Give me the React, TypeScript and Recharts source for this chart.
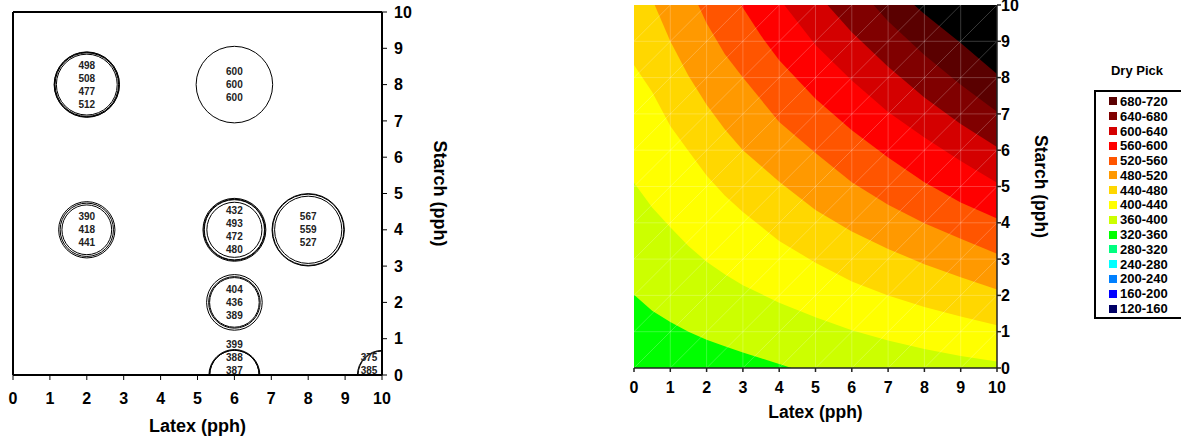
import React from "react";
import { ScatterChart, Scatter, ComposedChart, Area, XAxis, YAxis, ReferenceLine, CartesianGrid, Label } from "recharts";

const FONT = "Arial, 'Liberation Sans', Helvetica, sans-serif";

// left panel: measured dry pick replicates at each latex / starch design point
const pointLatex = [2, 6, 2, 6, 8, 6, 6, 10];
const pointStarch = [8, 8, 4, 4, 4, 2, 0, 0];
const pointValues = [
  [498, 508, 477, 512],
  [600, 600, 600],
  [390, 418, 441],
  [432, 493, 472, 480],
  [567, 559, 527],
  [404, 436, 389],
  [399, 388, 387],
  [375, 385],
];

const axisTicks = [0, 1, 2, 3, 4, 5, 6, 7, 8, 9, 10];
const meshLines = [1, 2, 3, 4, 5, 6, 7, 8, 9];
const meshDiagonals = [-9, -8, -7, -6, -5, -4, -3, -2, -1, 0, 1, 2, 3, 4, 5, 6, 7, 8, 9];

// right panel: contour lines [latex, starch]
const contour360 = [[0, 2.02], [0.5, 1.58], [1, 1.27], [1.5, 1.0], [2, 0.78], [2.5, 0.6], [3, 0.43], [3.5, 0.27], [4, 0.11], [4.34, 0], [10, 0]];
const contour400 = [[0, 5.1], [0.5, 4.42], [1, 3.88], [1.5, 3.36], [2, 2.93], [2.5, 2.58], [3, 2.28], [4, 1.8], [5, 1.4], [6, 1.04], [7, 0.76], [8, 0.52], [9, 0.33], [10, 0.18]];
const contour440 = [[0, 8.35], [0.5, 7.6], [1, 6.67], [1.5, 5.98], [2, 5.3], [2.5, 4.75], [3, 4.3], [4, 3.5], [5, 2.9], [6, 2.38], [7, 2.0], [8, 1.68], [9, 1.42], [10, 1.18]];
const contour480 = [[0.57, 10], [1, 9.0], [1.5, 8.05], [2, 7.25], [2.5, 6.58], [3, 6.0], [4, 5.13], [5, 4.35], [6, 3.76], [7, 3.28], [8, 2.86], [9, 2.5], [10, 2.16]];
const contour520 = [[1.77, 10], [2, 9.5], [2.5, 8.65], [3, 8.0], [4, 6.78], [5, 5.92], [6, 5.12], [7, 4.5], [8, 3.99], [9, 3.56], [10, 3.15]];
const contour560 = [[2.95, 10], [3.5, 9.15], [4, 8.48], [5, 7.42], [6, 6.55], [7, 5.8], [8, 5.12], [9, 4.56], [10, 4.12]];
const contour600 = [[4.14, 10], [5, 8.9], [6, 7.92], [7, 7.05], [8, 6.35], [9, 5.7], [10, 5.1]];
const contour640 = [[5.33, 10], [6, 9.25], [7, 8.3], [8, 7.45], [9, 6.72], [10, 6.09]];
const contour680 = [[6.6, 10], [7, 9.55], [8, 8.62], [9, 7.8], [10, 7.06]];
const contour720 = [[7.72, 10], [8, 9.75], [9, 8.95], [10, 8.1]];

const contourLines = [contour360, contour400, contour440, contour480, contour520, contour560, contour600, contour640, contour680, contour720];
const contourFills = ["#ccff00", "#ffff00", "#ffd700", "#ff9900", "#ff5500", "#ff0000", "#d40000", "#800000", "#5a0000", "#000000"];
const lowestFill = "#00ff00";

const legendRanges = ["680-720", "640-680", "600-640", "560-600", "520-560", "480-520", "440-480", "400-440", "360-400", "320-360", "280-320", "240-280", "200-240", "160-200", "120-160"];
const legendColors = ["#5a0000", "#800000", "#d40000", "#ff0000", "#ff5500", "#ff9900", "#ffd700", "#ffff00", "#ccff00", "#00ff00", "#00ff80", "#00ffff", "#0080ff", "#0000ff", "#000066"];

// left panel layout
const L_W = 470;
const L_H = 443;
const L_MARGIN = { top: 12, right: 42, bottom: 28, left: 13 };
const L_YAXIS_W = 46;
const L_XAXIS_H = 40;
const L_PLOT_RIGHT = L_W - L_MARGIN.right - L_YAXIS_W;
const L_PLOT_BOTTOM = L_H - L_MARGIN.bottom - L_XAXIS_H;
const RING_SCALE = 0.0638;
const LINE_H = 13;

const pointData = pointLatex.map((x, i) => ({ x, y: pointStarch[i], values: pointValues[i] }));

const tickStyle = { fill: "#000", fontSize: 16, fontWeight: 700, fontFamily: FONT };

const Bubble = (props: any) => {
  const { cx, cy, payload } = props;
  const values: number[] = payload.values;
  const rings = Array.from(new Set(values));
  const n = values.length;
  const tx = Math.min(cx, L_PLOT_RIGHT - 13);
  let firstY = cy - ((n - 1) * LINE_H) / 2;
  const lastMax = L_PLOT_BOTTOM - 5;
  if (firstY + (n - 1) * LINE_H > lastMax) firstY = lastMax - (n - 1) * LINE_H;
  return (
    <g>
      {rings.map((v, i) => (
        <circle key={"r" + i} cx={cx} cy={cy} r={v * RING_SCALE} fill="none" stroke="#000" strokeWidth={1} />
      ))}
      {values.map((v, i) => (
        <text key={"t" + i} x={tx} y={firstY + i * LINE_H} dy="0.36em" textAnchor="middle" fontFamily={FONT} fontSize={10} fontWeight={700} fill="#222">
          {v}
        </text>
      ))}
    </g>
  );
};

const xTitle = (dy: number, size: number) => (p: any) => {
  const vb = p.viewBox;
  return (
    <text x={vb.x + vb.width / 2} y={vb.y + dy} textAnchor="middle" fontFamily={FONT} fontSize={size} fontWeight={700} fill="#000">
      Latex (pph)
    </text>
  );
};

const yTitle = (dx: number, size: number) => (p: any) => {
  const vb = p.viewBox;
  const x = vb.x + dx;
  const y = vb.y + vb.height / 2;
  return (
    <text x={x} y={y} transform={`rotate(90, ${x}, ${y})`} textAnchor="middle" fontFamily={FONT} fontSize={size} fontWeight={700} fill="#000">
      Starch (pph)
    </text>
  );
};

const PointsChart = () => (
  <ScatterChart width={L_W} height={L_H} margin={L_MARGIN}>
    <XAxis
      type="number"
      dataKey="x"
      domain={[0, 10]}
      ticks={axisTicks}
      interval={0}
      allowDataOverflow
      height={L_XAXIS_H}
      axisLine={{ stroke: "#000", strokeWidth: 2 }}
      tickLine={{ stroke: "#000", strokeWidth: 1 }}
      tickSize={5}
      tickMargin={13}
      tick={tickStyle}
    >
      <Label content={xTitle(57, 18)} />
    </XAxis>
    <YAxis
      type="number"
      dataKey="y"
      orientation="right"
      domain={[0, 10]}
      ticks={axisTicks}
      interval={0}
      allowDataOverflow
      width={L_YAXIS_W}
      axisLine={{ stroke: "#000", strokeWidth: 2 }}
      tickLine={{ stroke: "#000", strokeWidth: 1 }}
      tickSize={5}
      tickMargin={7}
      tick={{ ...tickStyle, textAnchor: "start" }}
    >
      <Label content={yTitle(51.5, 18)} />
    </YAxis>
    <ReferenceLine x={0} stroke="#000" strokeWidth={2} />
    <ReferenceLine y={10} stroke="#000" strokeWidth={2} />
    <Scatter data={pointData} shape={Bubble} isAnimationActive={false} />
  </ScatterChart>
);

// right panel layout
const R_W = 520;
const R_H = 443;
const R_MARGIN = { top: 5, right: 33, bottom: 30, left: 74 };

const ContourChart = () => (
  <ComposedChart width={R_W} height={R_H} margin={R_MARGIN}>
    <CartesianGrid horizontal={false} vertical={false} fill={lowestFill} fillOpacity={1} />
    <XAxis
      type="number"
      dataKey="x"
      domain={[0, 10]}
      ticks={axisTicks}
      interval={0}
      allowDataOverflow
      height={45}
      axisLine={{ stroke: "#222", strokeWidth: 1.5 }}
      tickLine={{ stroke: "#222", strokeWidth: 1.5 }}
      tickSize={4}
      tickMargin={10}
      tick={tickStyle}
    >
      <Label content={xTitle(50, 17.5)} />
    </XAxis>
    <YAxis
      type="number"
      orientation="right"
      domain={[0, 10]}
      ticks={axisTicks}
      interval={0}
      allowDataOverflow
      width={50}
      axisLine={{ stroke: "#222", strokeWidth: 1.5 }}
      tickLine={{ stroke: "#222", strokeWidth: 1.5 }}
      tickSize={4}
      tickMargin={0}
      tick={{ ...tickStyle, textAnchor: "start" }}
    >
      <Label content={yTitle(38, 17.5)} />
    </YAxis>
    {contourLines.map((line, i) => (
      <Area
        key={"c" + i}
        data={line.map(([x, y]) => ({ x, y }))}
        dataKey="y"
        type="linear"
        baseValue={10}
        stroke="none"
        fill={contourFills[i]}
        fillOpacity={1}
        isAnimationActive={false}
        activeDot={false}
        dot={false}
      />
    ))}
    {meshLines.map((k) => (
      <ReferenceLine key={"mx" + k} x={k} stroke="#fff" strokeOpacity={0.22} />
    ))}
    {meshLines.map((k) => (
      <ReferenceLine key={"my" + k} y={k} stroke="#fff" strokeOpacity={0.22} />
    ))}
    {meshDiagonals.map((k) => (
      <ReferenceLine
        key={"md" + k}
        segment={[
          { x: Math.max(0, k), y: Math.max(0, -k) },
          { x: Math.min(10, 10 + k), y: Math.min(10, 10 - k) },
        ]}
        stroke="#fff"
        strokeOpacity={0.22}
      />
    ))}
  </ComposedChart>
);

const Legend = () => (
  <div style={{ position: "absolute", left: 1094, top: 62, width: 120, fontFamily: FONT, fontWeight: 700 }}>
    <div style={{ width: 90, textAlign: "center", fontSize: 13, lineHeight: "18px", marginLeft: -2 }}>Dry Pick</div>
    <div style={{ marginTop: 10, width: 110, height: 229, border: "2px solid #000", boxSizing: "border-box", paddingTop: 2 }}>
      {legendRanges.map((r, i) => (
        <div key={r} style={{ display: "flex", alignItems: "center", height: 14.8, fontSize: 13 }}>
          <span style={{ display: "inline-block", width: 8, height: 8, background: legendColors[i], marginLeft: 13, marginRight: 3 }} />
          <span>{r}</span>
        </div>
      ))}
    </div>
  </div>
);

export default function App() {
  return (
    <div style={{ position: "absolute", left: 0, top: 0, width: 1181, height: 443, overflow: "hidden", background: "#fff" }}>
      <div style={{ position: "absolute", left: 0, top: 0 }}>
        <PointsChart />
      </div>
      <div style={{ position: "absolute", left: 560, top: 0 }}>
        <ContourChart />
      </div>
      <Legend />
    </div>
  );
}
